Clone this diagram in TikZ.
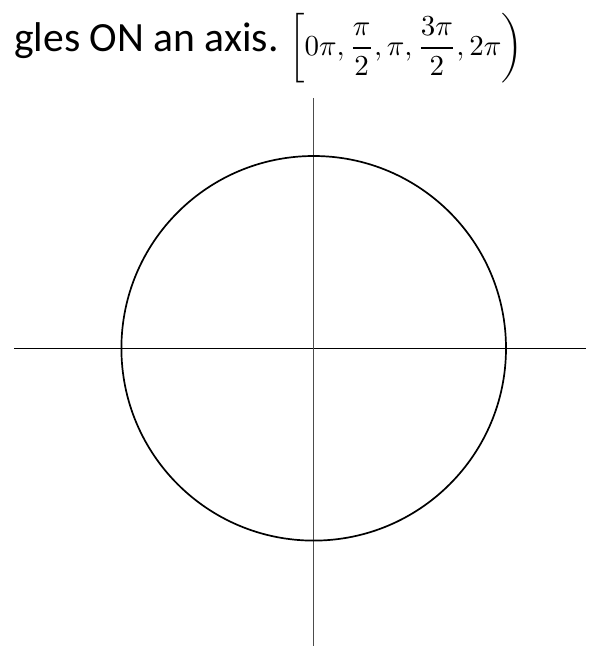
\documentclass[tikz,border=0pt]{standalone}
\usepackage{amsmath}
\usepackage{graphicx}
\usepackage{fontspec}
\setmainfont{Carlito}
\usepackage{tikz}

\begin{document}
\begin{tikzpicture}[x=1pt,y=-1pt]
\useasboundingbox (0,0) rectangle (595,650);

% Axes
\coordinate (O) at (313.7,348.3);
\coordinate (xleft) at (14,348.3);
\coordinate (xright) at (586,348.3);
\coordinate (ytop) at (313.7,98);
\coordinate (ybot) at (313.7,646);
\draw[line width=1pt] (xleft) -- (xright);
\draw[line width=1.3pt, black!70] (ytop) -- (ybot);

% Unit circle
\draw[line width=1.7pt] (O) circle (192.3);

% Heading
\node[anchor=base west, inner sep=0, font=\fontsize{41.6}{50}\selectfont] (head) at (14,52) {gles ON an axis.};
\node[anchor=west, inner sep=0] (quad) at (289,48)
  {\scalebox{2.9}{$\displaystyle\left[0\pi,\frac{\pi}{2},\pi,\frac{3\pi}{2},2\pi\right)$}};

\end{tikzpicture}
\end{document}
